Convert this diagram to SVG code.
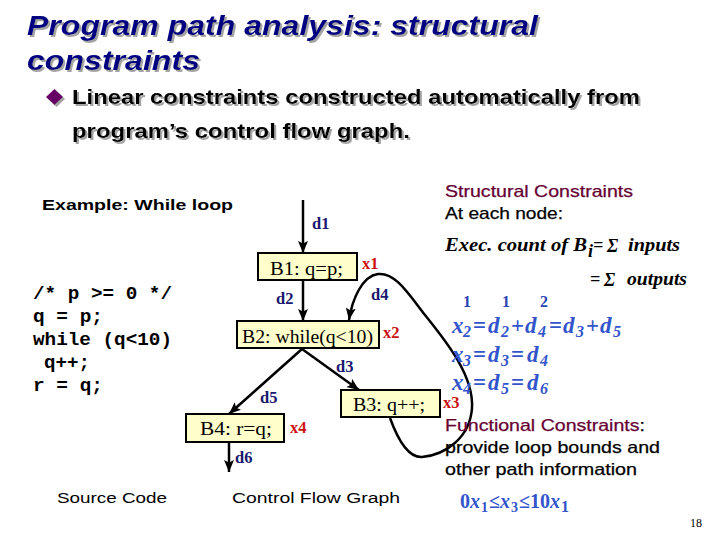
<svg xmlns="http://www.w3.org/2000/svg" width="720" height="540" viewBox="0 0 720 540">
<defs>
<filter id="sh" x="-5%" y="-20%" width="110%" height="150%">
<feDropShadow dx="2" dy="2" stdDeviation="0.6" flood-color="#9a9a9a" flood-opacity="0.9"/>
</filter>
<marker id="ah" viewBox="0 0 12 10" refX="12" refY="5" markerWidth="12" markerHeight="10" markerUnits="userSpaceOnUse" orient="auto">
<path d="M0,0 L12,5 L0,10 L2.5,5 z" fill="#000"/>
</marker>
</defs>
<style>
.title{font-family:"Liberation Sans",Arial,sans-serif;font-weight:bold;font-style:italic;font-size:28px;fill:#000080}
.bul{font-family:"Liberation Sans",Arial,sans-serif;font-weight:bold;font-size:21px;fill:#000}
.sans{font-family:"Liberation Sans",Arial,sans-serif;font-size:15.5px;fill:#000}
.rs{font-size:16.5px;stroke:currentColor;stroke-width:0.25}
.head{fill:#660033;color:#660033}
.code{font-family:"Liberation Mono","Courier New",monospace;font-weight:bold;font-size:17.5px;fill:#000}
.box{fill:#ffffcc;stroke:#000;stroke-width:2}
.bt{font-family:"Liberation Serif","Times New Roman",serif;font-size:19px;fill:#000}
.dl{font-family:"Liberation Serif","Times New Roman",serif;font-weight:bold;font-size:16.5px;fill:#1a1a70}
.xl{font-family:"Liberation Serif","Times New Roman",serif;font-weight:bold;font-size:16.5px;fill:#cc1111}
.edge{fill:none;stroke:#000;stroke-width:2.5;marker-end:url(#ah)}
.math{font-family:"Liberation Serif","Times New Roman",serif;font-weight:bold;font-style:italic;font-size:18px;fill:#000}
.eq{font-family:"Liberation Serif","Times New Roman",serif;font-weight:bold;font-style:italic;font-size:23px;fill:#3355cc}
.eqs{font-size:16px}
.op{font-style:normal}
.num{font-family:"Liberation Serif","Times New Roman",serif;font-weight:bold;font-size:16px;fill:#2a46b0}
.fc{font-family:"Liberation Serif","Times New Roman",serif;font-weight:bold;font-style:italic;font-size:20px;fill:#3355cc}
</style>

<g id="title" filter="url(#sh)">
<text class="title" x="27" y="35" textLength="511" lengthAdjust="spacingAndGlyphs">Program path analysis: structural</text>
<text class="title" x="27" y="70" textLength="173" lengthAdjust="spacingAndGlyphs">constraints</text>
</g>

<g id="bullet" filter="url(#sh)">
<path d="M54.5,89 L63,97 L54.5,105 L46,97 z" fill="#660066"/>
<text class="bul" x="72" y="104" textLength="568" lengthAdjust="spacingAndGlyphs">Linear constraints constructed automatically from</text>
<text class="bul" x="72" y="138" textLength="338" lengthAdjust="spacingAndGlyphs">program’s control flow graph.</text>
</g>

<g id="example">
<text class="sans" x="42" y="210" font-weight="bold" font-size="16.5" textLength="191" lengthAdjust="spacingAndGlyphs">Example: While loop</text>
</g>

<g id="source-code">
<text class="code" x="33" y="299" textLength="139" lengthAdjust="spacingAndGlyphs">/* p &gt;= 0 */</text>
<text class="code" x="33" y="322" textLength="70" lengthAdjust="spacingAndGlyphs">q = p;</text>
<text class="code" x="33" y="345" textLength="139" lengthAdjust="spacingAndGlyphs">while (q&lt;10)</text>
<text class="code" x="44" y="368" textLength="46" lengthAdjust="spacingAndGlyphs">q++;</text>
<text class="code" x="33" y="391" textLength="70" lengthAdjust="spacingAndGlyphs">r = q;</text>
</g>

<g id="captions">
<text class="sans" x="57" y="503" textLength="110" lengthAdjust="spacingAndGlyphs">Source Code</text>
<text class="sans" x="232" y="503" textLength="168" lengthAdjust="spacingAndGlyphs">Control Flow Graph</text>
</g>

<g id="connectors">
<path class="edge" d="M303,200 L303,253"/>
<path class="edge" d="M303,280 L303,321"/>
<path class="edge" d="M302,349 L359,390"/>
<path class="edge" d="M302,349 L229,414"/>
<path class="edge" d="M229,442 L229,472"/>
<path class="edge" d="M390,418 C398,440 408,458 422,457 C445,455 470,438 472,408 C474,375 445,340 425,315 C408,293 395,272 378,274 C362,276 352,300 349,320"/>
<text class="dl" x="312" y="229">d1</text>
<text class="dl" x="276" y="304">d2</text>
<text class="dl" x="371" y="300">d4</text>
<text class="dl" x="336" y="372">d3</text>
<text class="dl" x="260" y="403">d5</text>
<text class="dl" x="235" y="463">d6</text>
</g>

<g id="B1">
<rect class="box" x="258" y="253" width="99" height="27"/>
<text class="bt" x="270" y="275" textLength="73" lengthAdjust="spacingAndGlyphs">B1: q=p;</text>
<text class="xl" x="362" y="269">x1</text>
</g>
<g id="B2">
<rect class="box" x="237" y="321" width="142" height="27"/>
<text class="bt" x="242" y="343" textLength="131" lengthAdjust="spacingAndGlyphs">B2: while(q&lt;10)</text>
<text class="xl" x="383" y="338">x2</text>
</g>
<g id="B3">
<rect class="box" x="341" y="390" width="99" height="27"/>
<text class="bt" x="353" y="411" textLength="72" lengthAdjust="spacingAndGlyphs">B3: q++;</text>
<text class="xl" x="443" y="408">x3</text>
</g>
<g id="B4">
<rect class="box" x="186" y="414" width="98" height="28"/>
<text class="bt" x="200" y="435" textLength="72" lengthAdjust="spacingAndGlyphs">B4: r=q;</text>
<text class="xl" x="290" y="433">x4</text>
</g>

<g id="structural">
<text class="sans rs head" x="445" y="197" textLength="188" lengthAdjust="spacingAndGlyphs">Structural Constraints</text>
<text class="sans rs" x="445" y="219" textLength="118" lengthAdjust="spacingAndGlyphs">At each node:</text>
<text class="math" x="445" y="251" textLength="142" lengthAdjust="spacingAndGlyphs">Exec. count of B</text>
<text class="math" x="588" y="257" font-size="13">i</text>
<text class="math" x="593" y="251" font-style="normal" font-weight="normal">=</text>
<text class="math" x="607" y="252" font-style="normal" font-weight="normal" font-size="24">Σ</text>
<text class="math" x="628" y="251" textLength="52" lengthAdjust="spacingAndGlyphs">inputs</text>
<text class="math" x="590" y="285" font-style="normal" font-weight="normal">=</text>
<text class="math" x="604" y="286" font-style="normal" font-weight="normal" font-size="24">Σ</text>
<text class="math" x="627" y="285" textLength="60" lengthAdjust="spacingAndGlyphs">outputs</text>
<text class="num" x="463" y="307">1</text>
<text class="num" x="502" y="307">1</text>
<text class="num" x="540" y="307">2</text>
<text class="eq" y="333"><tspan x="452">x</tspan><tspan class="eqs" x="463" dy="4">2</tspan><tspan class="op" x="473" dy="-4">=</tspan><tspan x="488">d</tspan><tspan class="eqs" x="501" dy="4">2</tspan><tspan class="op" x="511" dy="-4">+</tspan><tspan x="525">d</tspan><tspan class="eqs" x="538" dy="4">4</tspan><tspan class="op" x="549" dy="-4">=</tspan><tspan x="563">d</tspan><tspan class="eqs" x="576" dy="4">3</tspan><tspan class="op" x="586" dy="-4">+</tspan><tspan x="600">d</tspan><tspan class="eqs" x="613" dy="4">5</tspan></text>
<text class="eq" y="362"><tspan x="452">x</tspan><tspan class="eqs" x="463" dy="4">3</tspan><tspan class="op" x="473" dy="-4">=</tspan><tspan x="488">d</tspan><tspan class="eqs" x="501" dy="4">3</tspan><tspan class="op" x="511" dy="-4">=</tspan><tspan x="527">d</tspan><tspan class="eqs" x="540" dy="4">4</tspan></text>
<text class="eq" y="390"><tspan x="452">x</tspan><tspan class="eqs" x="463" dy="4">4</tspan><tspan class="op" x="473" dy="-4">=</tspan><tspan x="488">d</tspan><tspan class="eqs" x="501" dy="4">5</tspan><tspan class="op" x="511" dy="-4">=</tspan><tspan x="527">d</tspan><tspan class="eqs" x="540" dy="4">6</tspan></text>
</g>

<g id="functional">
<text class="sans rs head" x="445" y="431" textLength="200" lengthAdjust="spacingAndGlyphs">Functional Constraints<tspan fill="#000" stroke="#000">:</tspan></text>
<text class="sans rs" x="445" y="453" textLength="215" lengthAdjust="spacingAndGlyphs">provide loop bounds and</text>
<text class="sans rs" x="445" y="475" textLength="192" lengthAdjust="spacingAndGlyphs">other path information</text>
<text class="fc" y="508"><tspan class="op" x="460">0</tspan><tspan x="470">x</tspan><tspan x="481" dy="4" font-size="14" class="op">1</tspan><tspan class="op" x="489" dy="-4">≤</tspan><tspan x="500">x</tspan><tspan x="511" dy="4" font-size="14" class="op">3</tspan><tspan class="op" x="519" dy="-4">≤</tspan><tspan class="op" x="530">10</tspan><tspan x="550">x</tspan><tspan x="561" dy="4" font-size="16" class="op">1</tspan></text>
</g>

<text x="690" y="527" font-family="Liberation Serif,Times New Roman,serif" font-size="12" fill="#000">18</text>
</svg>
